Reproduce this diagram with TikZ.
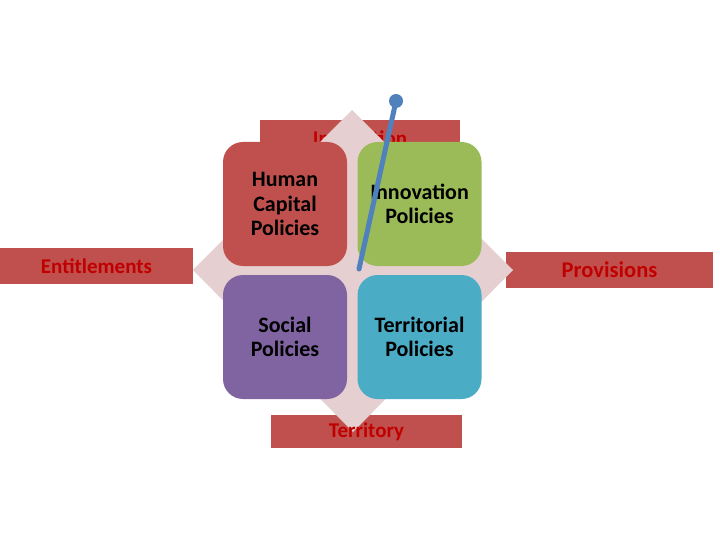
\documentclass[tikz,border=0pt]{standalone}
\usepackage{fontspec}
\setmainfont{Carlito}
\usetikzlibrary{calc}
\definecolor{boxred}{RGB}{192,80,77}
\definecolor{txtred}{RGB}{192,0,0}
\definecolor{diampink}{RGB}{230,207,208}
\definecolor{tgreen}{RGB}{155,187,89}
\definecolor{tpurple}{RGB}{128,100,162}
\definecolor{tcyan}{RGB}{75,172,198}
\definecolor{pinblue}{RGB}{79,129,189}

\begin{document}
\begin{tikzpicture}[x=1pt,y=-1pt,
    tile/.style={rounded corners=20pt,minimum width=124pt,minimum height=124pt,inner sep=0pt,align=center,font=\bfseries\fontsize{22}{24.5}\selectfont},
    axisbox/.style={fill=boxred,text=txtred,inner sep=0pt,font=\bfseries\fontsize{21}{25}\selectfont}]

    \useasboundingbox (0,0) rectangle (720,540);

    % the four axes
    \node[axisbox,minimum width=200pt,minimum height=36pt] (inno) at (360,138) {Innovation};
    \node[axisbox,minimum width=193pt,minimum height=36pt] (enti) at (96.5,266) {Entitlements};
    \node[axisbox,minimum width=207pt,minimum height=36pt,font=\bfseries\fontsize{22.5}{26}\selectfont] (prov) at (609.5,270) {Provisions};
    \node[axisbox,minimum width=191pt,minimum height=33pt] (terr) at (366.5,431.5) {};

    \fill[diampink] (352,110) -- (513,270) -- (353,432) -- (193,270) -- cycle;

    \node[text=txtred,font=\bfseries\fontsize{21}{25}\selectfont] at (terr) {Territory};

    % policy tiles
    \node[tile,fill=boxred] (hum) at (285,204) {Human\\Capital\\Policies};
    \node[tile,fill=tgreen] (inn) at (419.5,204) {Innovation\\Policies};
    \node[tile,fill=tpurple] (soc) at (285,337) {Social\\Policies};
    \node[tile,fill=tcyan] (ter) at (419.5,337) {Territorial\\Policies};

    % pointer
    \coordinate (pintop) at (396,101);
    \coordinate (pinend) at (359,269);
    \draw[pinblue,line width=5pt,line cap=round] (pinend) -- (pintop);
    \fill[pinblue] (pintop) circle (7pt);
\end{tikzpicture}
\end{document}
